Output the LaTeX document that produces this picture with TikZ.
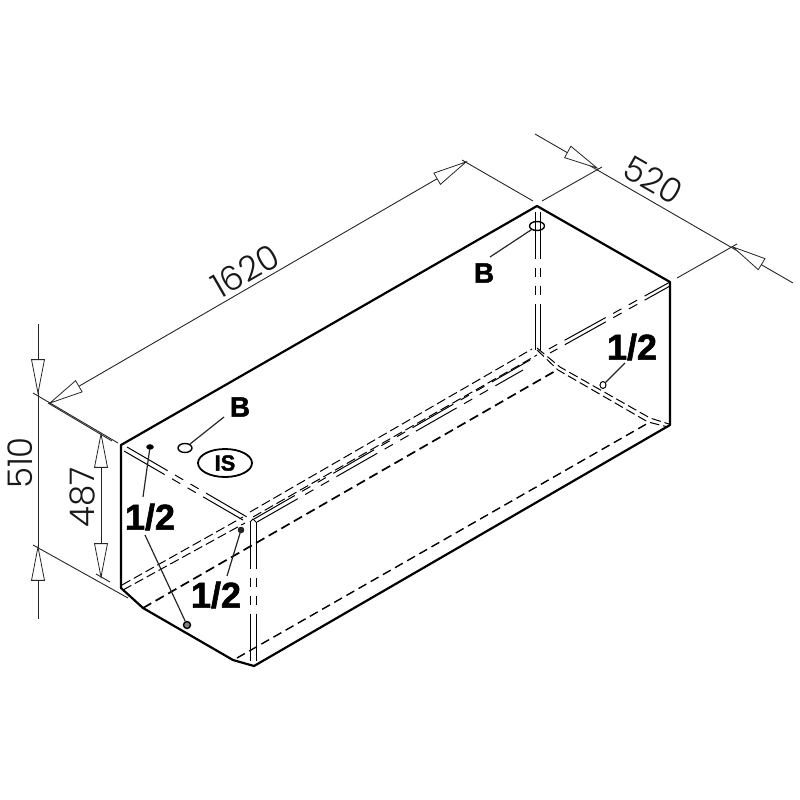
\documentclass[tikz,border=0pt]{standalone}
\usepackage{fontspec}
\usetikzlibrary{calc,shapes.geometric}
\setmainfont{Liberation Sans}
\newfontfamily\dimfont{Poppins}[UprightFont=* Light]
\newfontfamily\heavyfont{Liberation Sans Bold}[FakeBold=1.6]
\newcommand{\hollowtip}[2]{\draw[tri] (#1) -- ($(#1)!34pt!11:(#2)$) -- ($(#1)!34pt!-11:(#2)$) -- cycle;}
\tikzset{
  outline/.style={line width=2.2pt,line join=round},
  thin line/.style={line width=0.9pt,black!85},
  tri/.style={line width=0.8pt,black!85,fill=white},
  leader/.style={line width=1.2pt,black!85},
  dimtext/.style={font=\dimfont\fontsize{34}{34}\selectfont,inner sep=0pt,black!90},
  bigtext/.style={font=\heavyfont\fontsize{36}{36}\selectfont,inner sep=0pt},
  ltext/.style={font=\heavyfont\fontsize{28}{28}\selectfont,inner sep=0pt},
  hid/.style={line width=1pt,dash pattern=on 47pt off 8.5pt on 9.5pt off 8.5pt on 9.5pt off 8.5pt},
  reg/.style={line width=1pt,dash pattern=on 9.5pt off 4pt},
  heavy/.style={line width=1.7pt,dash pattern=on 9.5pt off 5pt},
  medium/.style={line width=1.4pt,dash pattern=on 9pt off 5pt},
  hole/.style={draw,ellipse,line width=1.4pt,inner sep=0pt}
}
\begin{document}
\begin{tikzpicture}[x=1pt,y=-1pt]
\useasboundingbox (0,0) rectangle (800,800);
% corners
\coordinate (A) at (121,445); \coordinate (B) at (537,206);
\coordinate (C) at (670,282); \coordinate (D) at (670,425);
\coordinate (E) at (254,666); \coordinate (F) at (233,660);
\coordinate (G) at (143,608); \coordinate (H) at (121,588);
% named points of dimensions
\coordinate (d510a) at (38,324); \coordinate (d510b) at (38,619);
\coordinate (t510a) at (38,393); \coordinate (t510b) at (38,547);
\coordinate (t487a) at (101,434); \coordinate (t487b) at (101,577);
\coordinate (t1620a) at (50,403); \coordinate (t1620b) at (466,162);
\coordinate (d520a) at (535,134); \coordinate (d520b) at (793,283);
\coordinate (t520a) at (597,168); \coordinate (t520b) at (733,247);
% outline
\draw[outline] (A) -- (B) -- (C) -- (D) -- (E) -- (F) -- (G) -- (H) -- cycle;
% extension lines
\draw[thin line] (33,393) -- (118,443);
\draw[thin line] (48,403) -- (112,441);
\draw[thin line] (33,545) -- (128,598);
\draw[thin line] (96,574) -- (110,582);
\draw[thin line] (462,160) -- (533,201);
\draw[thin line] (542,201) -- (602,167);
\draw[thin line] (677,278) -- (737,244);
% dimension lines
\draw[thin line] (d510a) -- (d510b);
\draw[thin line] (t487a) -- (t487b);
\draw[thin line] (t1620a) -- (t1620b);
\draw[thin line] (d520a) -- (d520b);
\hollowtip{t510a}{d510a}
\hollowtip{t510b}{d510b}
\hollowtip{t487a}{t487b}
\hollowtip{t487b}{t487a}
\hollowtip{t1620a}{t1620b}
\hollowtip{t1620b}{t1620a}
\hollowtip{t520a}{d520a}
\hollowtip{t520b}{d520b}
% dimension texts
\node[dimtext,rotate=90] (n510) at (20,463) {510};
\node[dimtext,rotate=90] (n487) at (82,497) {487};
\node[dimtext,rotate=30] (n1620) at (245,271) {1620};
\node[dimtext,rotate=-30] (n520) at (653,180) {520};
% hidden lines: long bundle
\draw[reg] (250,512) -- (532,349);
\draw[reg] (253,517) -- (537,355);
\draw[hid] (254,519) -- (530,360);
\draw[hid] (257,522) -- (523,370);
\draw[heavy] (G) -- (557,370);
\draw[medium] (237,658) -- (650,422);
% front-left top double
\draw[hid] (127,447) -- (247,517);
\draw[hid] (124,451) -- (243,520);
% left lower double
\draw[reg] (122,585) -- (243,517);
\draw[reg] (123,590) -- (245,523);
% front vertical double
\draw[hid] (250,522) -- (250,663);
\draw[hid] (256,522) -- (256,666);
\draw[line width=0.9pt] (250,522) -- (253,519) -- (256,522);
% back vertical double
\draw[hid] (535,212) -- (535,350);
\draw[hid] (540,212) -- (540,350);
% to right top corner
\draw[hid,dash phase=18pt] (670,282) -- (547,350);
\draw[hid,dash phase=18pt] (670,286) -- (550,353);
% back to right lower
\draw[reg] (537,348) -- (560,367) -- (650,418) -- (669,424);
\draw[reg] (537,350) -- (558,370) -- (648,422) -- (668,427);
% holes and leaders
\node[draw,fill=black,ellipse,minimum width=7pt,minimum height=5pt,inner sep=0pt] (h1) at (150,447) {};
\node[hole,minimum width=14pt,minimum height=9pt] (h2) at (185,448) {};
\node[hole,minimum width=7pt,minimum height=7pt,fill=black!50] (h3) at (187,625) {};
\node[draw,fill=black!85,circle,minimum size=6pt,inner sep=0pt] (h4) at (241,530) {};
\node[hole,minimum width=15pt,minimum height=9pt] (h5) at (537,226) {};
\node[hole,minimum width=6pt,minimum height=7pt,line width=1pt] (h6) at (603,385) {};
\node[ltext] (lB1) at (240,407) {B};
\node[ltext] (lB2) at (484,273) {B};
\node[bigtext] (l1) at (150,517) {1/2};
\node[bigtext] (l2) at (216,595) {1/2};
\node[bigtext] (l3) at (632,347) {1/2};
\node[draw,ellipse,line width=1.8pt,minimum width=54pt,minimum height=28pt,inner sep=0pt,font=\heavyfont\fontsize{22}{22}\selectfont] (lIS) at (225,463) {IS};
\coordinate (e1) at (143,497);
\coordinate (e2) at (145,535);
\coordinate (e3) at (227,576);
\coordinate (e4) at (224,417);
\coordinate (e5) at (490,257);
\coordinate (e6) at (625,363);
\draw[leader] (h1) -- (e1);
\draw[leader] (h3) -- (e2);
\draw[leader] (h4) -- (e3);
\draw[leader] (h2) -- (e4);
\draw[leader] (h5) -- (e5);
\draw[leader] (h6) -- (e6);
\end{tikzpicture}
\end{document}
